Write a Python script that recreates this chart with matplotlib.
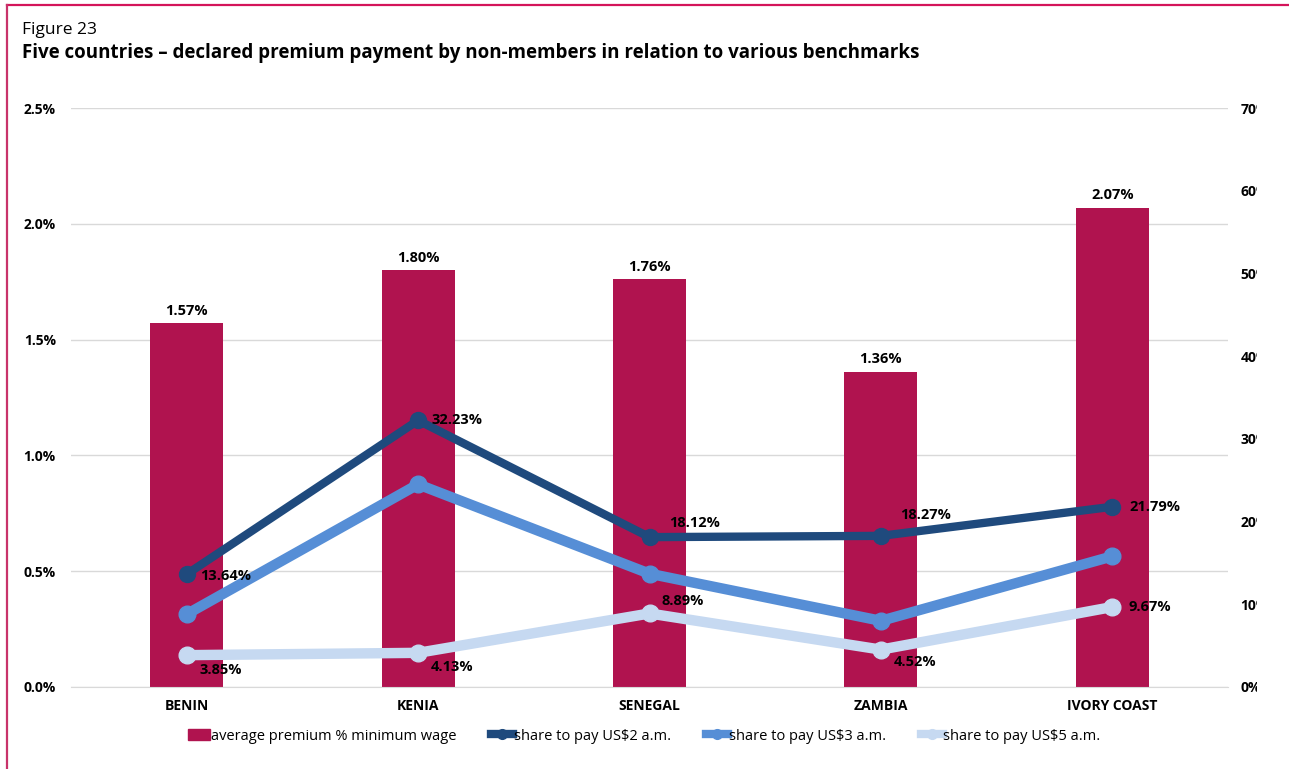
import numpy as np
import matplotlib
matplotlib.use("Agg")
import matplotlib.pyplot as plt
from matplotlib.lines import Line2D
from matplotlib.patches import Patch, Rectangle

plt.rcParams['font.family'] = ['Open Sans', 'DejaVu Sans']

countries = ["BENIN", "KENIA", "SENEGAL", "ZAMBIA", "IVORY COAST"]
avg_premium = [1.57, 1.80, 1.76, 1.36, 2.07]          # % of minimum wage (left axis)
share_us2 = [13.64, 32.23, 18.12, 18.27, 21.79]        # right axis
share_us3 = [8.8, 24.5, 13.7, 8.0, 15.8]               # no labels in the source
share_us5 = [3.85, 4.13, 8.89, 4.52, 9.67]

left_ticks = [0.0, 0.5, 1.0, 1.5, 2.0, 2.5]
right_ticks = [0, 10, 20, 30, 40, 50, 60, 70]

bar_color = "#B0134F"
c_us2 = "#1F4A7D"
c_us3 = "#568ED6"
c_us5 = "#C6D9F1"
border_color = "#C8336A"

fig = plt.figure(figsize=(12.89, 7.69), dpi=100)
ax = fig.add_axes([71 / 1289, 82 / 769, 1157 / 1289, 579 / 769])
ax2 = ax.twinx()

x = np.arange(len(countries))
ax.bar(x, avg_premium, width=0.315, color=bar_color, zorder=2)
for xi, v in zip(x, avg_premium):
    ax.annotate(f"{v:.2f}%", (xi, v), xytext=(0, 4), textcoords="offset points",
                ha="center", va="bottom", fontsize=10.5, fontweight="bold")

ax.set_xlim(-0.5, 4.5)
ax.set_ylim(0, 2.5)
ax.set_yticks(left_ticks)
ax.set_yticklabels([f"{t:.1f}%" for t in left_ticks], fontsize=10, fontweight="bold")
ax.set_xticks(x)
ax.set_xticklabels(countries, fontsize=10, fontweight="bold")
ax.tick_params(axis="both", length=0)
ax.tick_params(axis="y", pad=11)
ax.tick_params(axis="x", pad=9)
ax.grid(axis="y", color="#D9D9D9", lw=1, zorder=0)
ax.set_axisbelow(True)
for s in ax.spines.values():
    s.set_visible(False)
ax.spines["bottom"].set_visible(True)
ax.spines["bottom"].set_color("#D9D9D9")

# lines on the right axis
ax2.plot(x, share_us5, color=c_us5, lw=7.5, marker="o", ms=12, solid_capstyle="round", zorder=3)
ax2.plot(x, share_us3, color=c_us3, lw=7.5, marker="o", ms=12, solid_capstyle="round", zorder=4)
ax2.plot(x, share_us2, color=c_us2, lw=6, marker="o", ms=11.5, solid_capstyle="round", zorder=5)
ax2.set_ylim(0, 70)
ax2.set_yticks(right_ticks)
ax2.set_yticklabels([f"{t}%" for t in right_ticks], fontsize=10, fontweight="bold")
ax2.tick_params(axis="y", length=0, pad=9)
for s in ax2.spines.values():
    s.set_visible(False)

# data labels for the lines (offsets in points)
us2_offsets = [(10, -1), (10, 0), (14, 10), (14, 15), (12, 0)]
us5_offsets = [(9, -11), (9, -10), (9, 9), (9, -9), (12, 0)]
for xi, v, off in zip(x, share_us2, us2_offsets):
    ax2.annotate(f"{v:.2f}%", (xi, v), xytext=off, textcoords="offset points",
                 ha="left", va="center", fontsize=10.5, fontweight="bold", zorder=6)
for xi, v, off in zip(x, share_us5, us5_offsets):
    ax2.annotate(f"{v:.2f}%", (xi, v), xytext=off, textcoords="offset points",
                 ha="left", va="center", fontsize=10.5, fontweight="bold", zorder=6)

# legend
handles = [
    Patch(color=bar_color),
    Line2D([], [], color=c_us2, lw=6, marker="o", ms=7),
    Line2D([], [], color=c_us3, lw=6, marker="o", ms=7),
    Line2D([], [], color=c_us5, lw=6, marker="o", ms=7),
]
labels = ["average premium % minimum wage", "share to pay US$2 a.m.",
          "share to pay US$3 a.m.", "share to pay US$5 a.m."]
fig.legend(handles, labels, loc="center", bbox_to_anchor=(0.5, 1 - 736 / 769), ncol=4,
           frameon=False, fontsize=10.5, handlelength=1.5, handletextpad=0.05,
           columnspacing=2.4, handleheight=0.7)

# titles
fig.text(22 / 1289, 1 - 30 / 769, "Figure 23", fontsize=12.5, va="center", ha="left")
fig.text(22 / 1289, 1 - 53 / 769,
         "Five countries \u2013 declared premium payment by non-members in relation to various benchmarks",
         fontsize=13.5, fontweight="bold", va="center", ha="left")

# right labels are cut off in the source
fig.patches.append(Rectangle((1257 / 1289, 0.05), 1, 0.85, transform=fig.transFigure,
                             facecolor="white", edgecolor="none", zorder=10))

# frame lines
fig.add_artist(Line2D([7 / 1289, 1], [1 - 5 / 769, 1 - 5 / 769], color="#D4145A", lw=1.6,
                      transform=fig.transFigure))
fig.add_artist(Line2D([7 / 1289, 7 / 1289], [0, 1 - 5 / 769], color=border_color, lw=1.6,
                      transform=fig.transFigure))

fig.savefig("out.png", dpi=100, facecolor="white")
